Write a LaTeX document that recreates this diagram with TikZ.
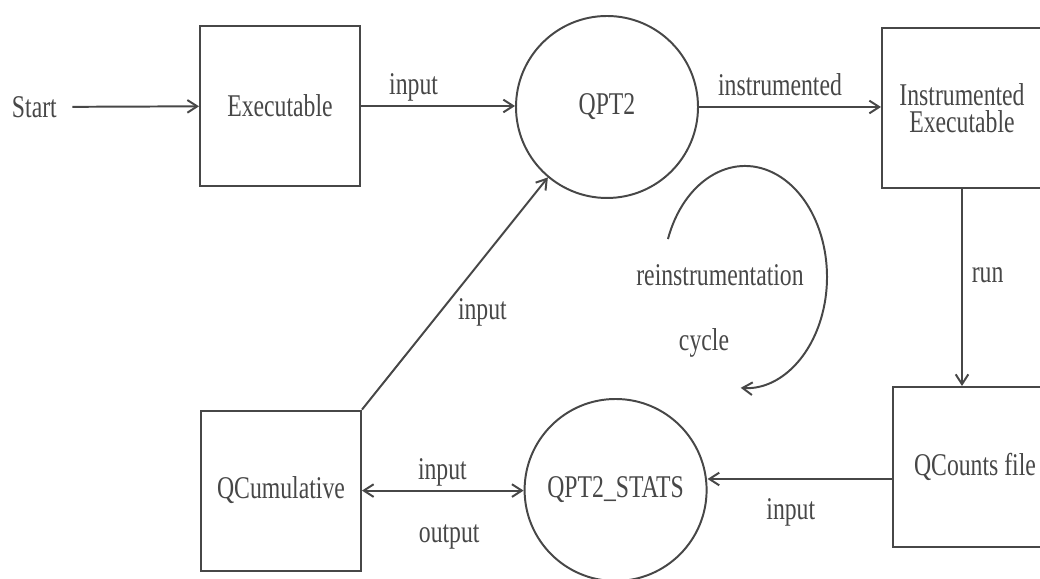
\documentclass[tikz,border=0pt]{standalone}
\usepackage{fontspec}
\setmainfont{Liberation Serif}[FakeStretch=0.75]
\usepackage{tikz}
\usetikzlibrary{arrows.meta}
\definecolor{ink}{gray}{0.28}
\tikzset{
  box/.style={draw, minimum width=4cm, minimum height=4cm},
  proc/.style={draw, circle, minimum size=4.55cm}
}

\begin{document}
\begin{tikzpicture}[color=ink, line width=1.4pt, >={Straight Barb[length=7pt,width=9pt]}, font=\fontsize{22.5}{24}\selectfont]
\node (start) at (0.86,11.8) {Start};
\node[box] (exe) at (7.0,11.825) {Executable};
\node[proc] (qpt) at (15.175,11.8) {QPT2};
\node[box, align=center, font=\fontsize{22.5}{19.5}\selectfont] (instr) at (24.05,11.775) {Instrumented\\Executable};
\node[box, minimum width=4.1cm] (qcounts) at (24.375,2.8) {QCounts file};
\node[proc] (stats) at (15.39,2.225) {QPT2\_STATS};
\node[box] (qcum) at (7.025,2.21) {QCumulative};
\draw[->, shorten <=0.25cm] (start) -- (exe);
\draw[->] (exe.east) -- (exe.east -| qpt.west);
\draw[->] (qpt.east) -- (qpt.east -| instr.west);
\draw[->] (instr.south) -- (instr.south |- qcounts.north);
\coordinate (qin) at ([yshift=-0.3cm]qcounts.west);
\draw[->] (qin) -- (qin -| stats.east);
\draw[<->] (qcum.east) -- (qcum.east -| stats.west);
\draw[->] (qcum.north east) -- (qpt.230);
\coordinate (cyc) at (18.625,7.55);
\draw[->] ([shift={(160:2.05 and 2.775)}]cyc) arc[start angle=160, end angle=-93, x radius=2.05, y radius=2.775];
\node (in1) at (10.34,12.3) {input};
\node (instd) at (19.5,12.35) {instrumented};
\node (run) at (24.69,7.6) {run};
\node (in2) at (12.06,6.675) {input};
\node (reins) at (18.0,7.6) {reinstrumentation};
\node (cycle) at (17.6,5.9) {cycle};
\node (in3) at (11.06,2.675) {input};
\node (out) at (11.23,1.05) {output};
\node (in4) at (19.77,1.675) {input};
\pgfresetboundingbox
\path[use as bounding box] (0,0) rectangle (26,14.475);
\end{tikzpicture}
\end{document}
